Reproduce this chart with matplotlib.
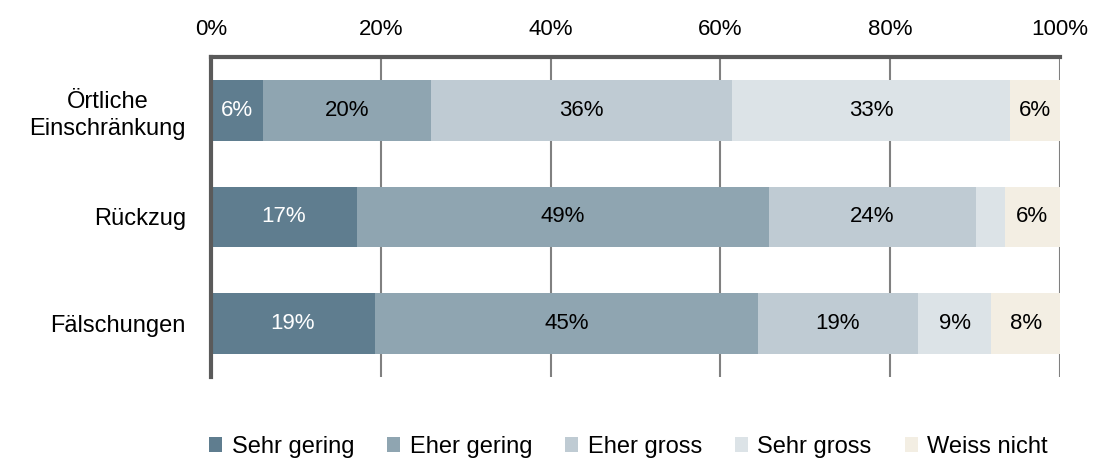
import matplotlib.pyplot as plt
import numpy as np

plt.rcParams['font.family'] = ['Liberation Sans', 'DejaVu Sans']

categories = ['Örtliche\nEinschränkung', 'Rückzug', 'Fälschungen']
series = ['Sehr gering', 'Eher gering', 'Eher gross', 'Sehr gross', 'Weiss nicht']
sehr_gering = [6.1, 17.2, 19.3]
eher_gering = [19.8, 48.5, 45.1]
eher_gross = [35.5, 24.4, 18.9]
sehr_gross = [32.7, 3.4, 8.6]
weiss_nicht = [5.9, 6.5, 8.1]
labels = [
    ['6%', '17%', '19%'],
    ['20%', '49%', '45%'],
    ['36%', '24%', '19%'],
    ['33%', '', '9%'],
    ['6%', '6%', '8%'],
]
colors = ['#5f7d8f', '#8fa5b1', '#bfcbd3', '#dce3e7', '#f3eee3']
text_colors = ['white', 'black', 'black', 'black', 'black']

values = [sehr_gering, eher_gering, eher_gross, sehr_gross, weiss_nicht]

fig = plt.figure(figsize=(10.97, 4.63), dpi=100)
ax = fig.add_axes([0.1923, 0.1857, 0.7740, 0.6913])

y = np.arange(len(categories))
left = np.zeros(len(categories))
for vals, name, col, tcol, labs in zip(values, series, colors, text_colors, labels):
    vals = np.array(vals)
    ax.barh(y, vals, left=left, height=0.57, color=col, label=name, zorder=2)
    for yi, l, v, t in zip(y, left, vals, labs):
        if t:
            ax.text(l + v / 2, yi, t, ha='center', va='center', color=tcol,
                    fontsize=16, zorder=3)
    left += vals

ax.set_xlim(0, 100)
ax.set_ylim(2.5, -0.5)
ax.set_yticks(y)
ax.set_yticklabels(categories, fontsize=17, ha='right', multialignment='center',
                   linespacing=1.3)
ax.set_xticks(np.arange(0, 101, 20))
ax.set_xticklabels([f'{v}%' for v in range(0, 101, 20)], fontsize=16)
ax.xaxis.tick_top()
ax.tick_params(axis='y', length=0, pad=18)
ax.tick_params(axis='x', length=0, pad=12)

ax.grid(axis='x', color='#808080', linewidth=1.5, zorder=0)
ax.set_axisbelow(True)
for s in ['right', 'bottom']:
    ax.spines[s].set_visible(False)
ax.spines['left'].set_color('#5a5a5a')
ax.spines['left'].set_linewidth(3)
ax.spines['top'].set_color('#5a5a5a')
ax.spines['top'].set_linewidth(3)

fig.legend(loc='center', bbox_to_anchor=(0.573, 0.035), ncol=5, frameon=False,
           fontsize=17, handlelength=0.55, handleheight=0.55, handletextpad=0.4,
           columnspacing=1.4)

fig.savefig('out.png', dpi=100)
